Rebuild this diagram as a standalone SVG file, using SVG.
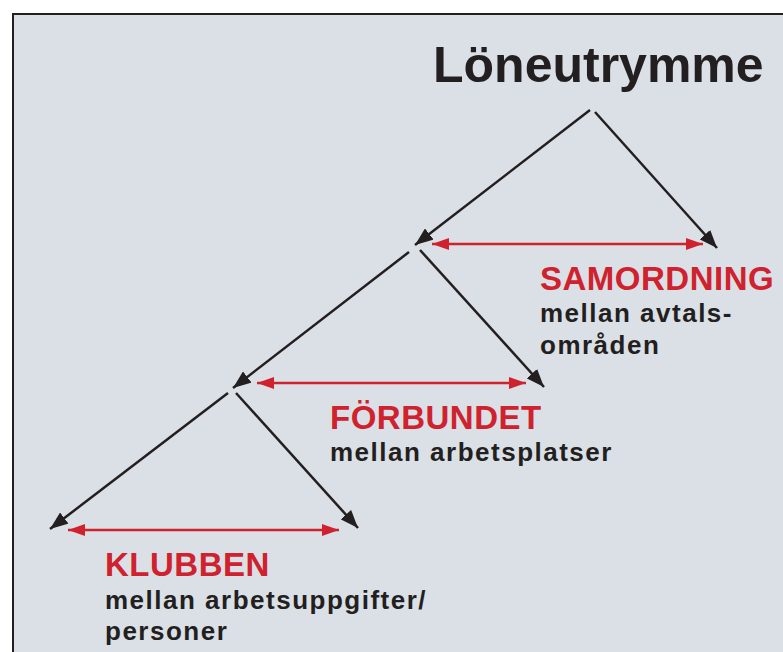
<svg xmlns="http://www.w3.org/2000/svg" width="783" height="652" viewBox="0 0 783 652">
<style>
.t{font-family:"Liberation Sans",Arial,sans-serif;font-weight:bold}
.h{font-size:33px;fill:#d0222e;letter-spacing:0.5px}
.s{font-size:26px;fill:#231f20;letter-spacing:1.5px}
.k{stroke:#231f20;stroke-width:2.5;fill:none}
.r{stroke:#d0222e;stroke-width:2.5;fill:none}
</style>
<defs>
<marker id="ak" viewBox="0 0 10 10" refX="10" refY="5" markerWidth="18" markerHeight="14" markerUnits="userSpaceOnUse" orient="auto" preserveAspectRatio="none">
<path d="M0,0 L10,5 L0,10 Z" fill="#231f20"/>
</marker>
<marker id="ar" viewBox="0 0 10 10" refX="10" refY="5" markerWidth="17" markerHeight="12" markerUnits="userSpaceOnUse" orient="auto-start-reverse" preserveAspectRatio="none">
<path d="M0,0 L10,5 L0,10 Z" fill="#d0222e"/>
</marker>
</defs>
<rect x="0" y="0" width="783" height="652" fill="#ffffff"/>
<rect x="13" y="14" width="790" height="660" fill="#dae0e5" stroke="#231f20" stroke-width="2"/>
<g id="title"><text class="t" x="433" y="82" font-size="50" fill="#231f20">Löneutrymme</text></g>
<g id="samordning"><text class="t h" x="540" y="290">SAMORDNING</text><text class="t s" x="540" y="322">mellan avtals-</text><text class="t s" x="540" y="354">områden</text></g>
<g id="forbundet"><text class="t h" x="330" y="429">FÖRBUNDET</text><text class="t s" x="330" y="461">mellan arbetsplatser</text></g>
<g id="klubben"><text class="t h" x="105" y="576">KLUBBEN</text><text class="t s" x="105" y="609">mellan arbetsuppgifter/</text><text class="t s" x="105" y="640">personer</text></g>
<g id="connectors">
<line class="k" x1="590" y1="110" x2="415" y2="245" marker-end="url(#ak)"/>
<line class="k" x1="595" y1="112" x2="717" y2="248" marker-end="url(#ak)"/>
<line class="r" x1="432" y1="244" x2="703" y2="244" marker-start="url(#ar)" marker-end="url(#ar)"/>
<line class="k" x1="409" y1="252" x2="233" y2="388" marker-end="url(#ak)"/>
<line class="k" x1="420" y1="250" x2="544" y2="387" marker-end="url(#ak)"/>
<line class="r" x1="257" y1="383" x2="526" y2="383" marker-start="url(#ar)" marker-end="url(#ar)"/>
<line class="k" x1="228" y1="393" x2="50" y2="529" marker-end="url(#ak)"/>
<line class="k" x1="236" y1="393" x2="358" y2="528" marker-end="url(#ak)"/>
<line class="r" x1="68" y1="530" x2="339" y2="530" marker-start="url(#ar)" marker-end="url(#ar)"/>
</g>
</svg>
